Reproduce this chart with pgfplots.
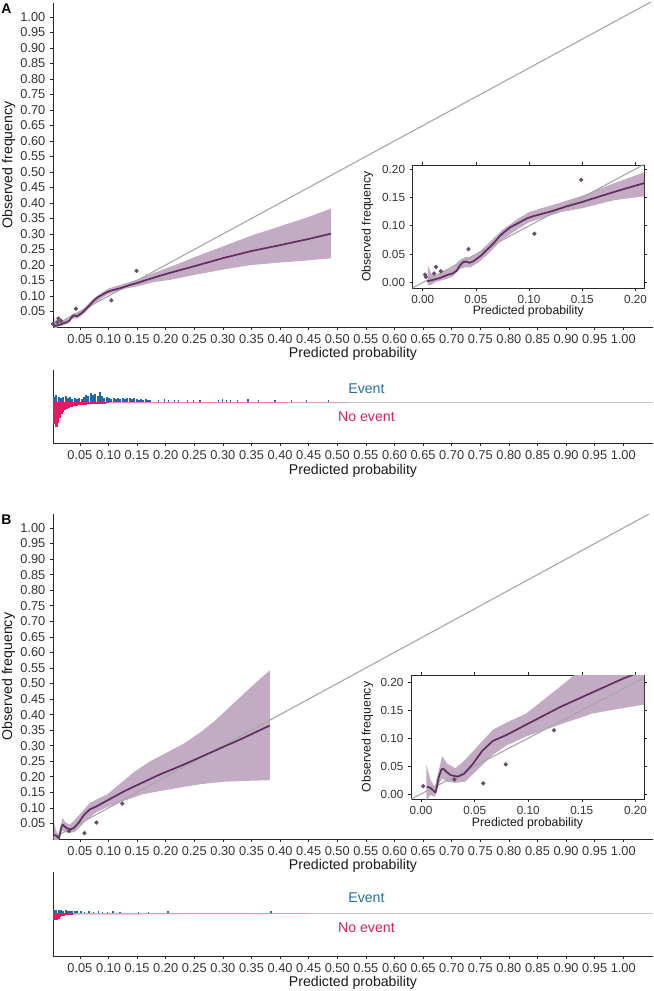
\documentclass[border=0pt]{standalone}
\usepackage{fontspec}
\setmainfont{Liberation Sans}
\usepackage{pgfplots}
\pgfplotsset{compat=1.18}
\definecolor{linecol}{RGB}{96,48,96}
\definecolor{bandcol}{RGB}{196,171,196}
\definecolor{ptcol}{RGB}{105,75,105}
\definecolor{diagcol}{RGB}{168,168,168}
\definecolor{evcol}{RGB}{31,106,165}
\definecolor{nevcol}{RGB}{228,25,95}
\definecolor{evtext}{RGB}{36,110,160}
\definecolor{nevtext}{RGB}{210,35,100}
\definecolor{axcol}{RGB}{40,40,40}

\pgfplotsset{
  base/.style={scale only axis, axis line style={axcol, line width=0.55pt},
    tick style={axcol, line width=0.5pt}, tick align=outside, major tick length=2.2pt,
    ticklabel style={font=\fontsize{9.6}{10}\selectfont, text=black!80},
    label style={font=\fontsize{10.6}{12}\selectfont, text=black!90},
    /pgf/number format/fixed, /pgf/number format/fixed zerofill,
    /pgf/number format/precision=2, /pgf/number format/assume math mode=true},
  probx/.style={xmin=0.003, xmax=1.052, width=450pt,
    xtick={0.05,0.10,0.15,0.20,0.25,0.30,0.35,0.40,0.45,0.50,0.55,0.60,0.65,0.70,0.75,0.80,0.85,0.90,0.95,1.00},
    axis x line*=bottom, axis y line*=left},
  proby/.style={ymin=0, ymax=1.045,
    ytick={0.05,0.10,0.15,0.20,0.25,0.30,0.35,0.40,0.45,0.50,0.55,0.60,0.65,0.70,0.75,0.80,0.85,0.90,0.95,1.00}},
  inset/.style={base, anchor=south west, xmin=-0.0094, xmax=0.208,
    xtick={0,0.05,0.10,0.15,0.20}, ytick={0,0.05,0.10,0.15,0.20},
    axis background/.style={fill=white},
    ticklabel style={font=\fontsize{8.8}{9}\selectfont},
    label style={font=\fontsize{9.2}{10}\selectfont},
    xlabel={Predicted probability}, ylabel={Observed frequency}},
}

% ---------- data: panel A ----------
\pgfplotstableread{
x y
0.004 0.002
0.008 0.004
0.012 0.006
0.016 0.008
0.020 0.011
0.024 0.014
0.028 0.016
0.032 0.021
0.035 0.030
0.038 0.036
0.041 0.037
0.044 0.035
0.047 0.037
0.051 0.042
0.055 0.048
0.060 0.057
0.066 0.068
0.073 0.083
0.078 0.091
0.082 0.097
0.088 0.103
0.092 0.107
0.098 0.113
0.104 0.117
0.112 0.121
0.120 0.125
0.135 0.134
0.150 0.142
0.160 0.148
0.186 0.163
0.208 0.175
0.250 0.196
0.300 0.222
0.350 0.245
0.400 0.264
0.450 0.284
0.489 0.301
}\curveA
\pgfplotstableread{
x y
0.005 0.030
0.008 0.016
0.012 0.012
0.020 0.020
0.028 0.026
0.035 0.040
0.040 0.045
0.045 0.045
0.052 0.052
0.060 0.066
0.075 0.093
0.090 0.113
0.100 0.124
0.110 0.130
0.130 0.141
0.150 0.153
0.180 0.175
0.208 0.194
0.250 0.225
0.300 0.260
0.350 0.295
0.400 0.325
0.450 0.355
0.489 0.382
0.489 0.222
0.450 0.215
0.400 0.208
0.350 0.200
0.300 0.185
0.250 0.168
0.208 0.152
0.180 0.145
0.150 0.131
0.130 0.124
0.110 0.112
0.100 0.106
0.090 0.095
0.075 0.076
0.060 0.048
0.052 0.035
0.045 0.027
0.040 0.027
0.035 0.024
0.028 0.010
0.020 0.005
0.012 0.001
0.008 -0.004
0.005 -0.004
}\bandA
\pgfplotstableread{
x y
0.0022 0.014
0.0030 0.010
0.0107 0.016
0.0125 0.0276
0.0170 0.020
0.0430 0.059
0.1050 0.086
0.1490 0.181
}\ptsA
% ---------- data: panel B ----------
\pgfplotstableread{
x y
0.0056 0.013
0.0088 0.011
0.0120 0.005
0.0135 0.003
0.0150 0.015
0.0166 0.031
0.0190 0.044
0.0210 0.045
0.0235 0.040
0.0275 0.034
0.0340 0.031
0.0400 0.036
0.0480 0.053
0.0570 0.077
0.0670 0.095
0.0790 0.105
0.0980 0.124
0.1290 0.155
0.1600 0.182
0.1890 0.207
0.2300 0.238
0.2860 0.284
0.3350 0.324
0.3820 0.365
}\curveB
\pgfplotstableread{
x y
0.0050 0.052
0.0088 0.025
0.0128 0.013
0.0166 0.043
0.0197 0.068
0.0240 0.055
0.0320 0.046
0.0410 0.061
0.0540 0.088
0.0670 0.115
0.0790 0.127
0.0980 0.144
0.1290 0.191
0.1450 0.216
0.1730 0.250
0.2000 0.276
0.2300 0.305
0.2600 0.342
0.2860 0.380
0.3150 0.430
0.3430 0.478
0.3650 0.515
0.3820 0.542
0.3820 0.189
0.3400 0.187
0.3000 0.184
0.2600 0.176
0.2300 0.167
0.2080 0.160
0.1800 0.151
0.1600 0.144
0.1290 0.124
0.0980 0.103
0.0790 0.086
0.0670 0.070
0.0540 0.046
0.0410 0.022
0.0320 0.020
0.0240 0.022
0.0197 0.028
0.0166 0.019
0.0128 -0.005
0.0088 -0.002
0.0050 -0.011
}\bandB
\pgfplotstableread{
x y
0.0020 0.014
0.0310 0.026
0.0580 0.019
0.0790 0.053
0.1240 0.114
}\ptsB
% ---------- histogram data ----------
\pgfplotstableread{
x h
0.005 5
0.009 7
0.013 5
0.017 4
0.021 5
0.025 6
0.029 4
0.033 5
0.037 3
0.041 4
0.045 3
0.049 4
0.053 3
0.057 5
0.061 7
0.065 6
0.069 9
0.073 7
0.077 8
0.081 6
0.085 10
0.089 6
0.093 4
0.097 5
0.101 4
0.105 3
0.109 4
0.113 3
0.117 4
0.121 3
0.125 4
0.129 3
0.133 4
0.137 4
0.141 3
0.145 4
0.149 3
0.153 2
0.157 3
0.161 2
0.165 3
0.169 2
0.173 2
}\evA
\pgfplotstableread{
x h
0.187 2
0.198 3
0.205 2
0.216 2
0.223 2
0.238 2
0.249 2
0.260 2
0.293 2
0.300 3
0.307 2
0.314 2
0.325 2
0.344 3
0.362 2
0.391 2
0.420 2
0.446 2
0.485 2
}\evAs
\pgfplotstableread{
x h
0.0055 -22
0.0085 -25
0.0115 -21
0.0145 -16
0.0175 -12
0.0205 -10
0.0235 -8
0.0265 -7
0.0295 -6
0.0325 -5
0.0355 -4.5
0.0385 -4
0.0415 -3.5
0.0445 -3.5
0.0475 -3
0.0505 -3
0.0535 -2.5
0.0565 -2.5
0.0595 -3
0.0625 -2
0.0655 -2
0.0685 -2
0.0715 -2
0.0745 -2
0.0775 -2
0.0805 -1.8
0.0835 -1.5
0.0865 -1.5
0.0895 -1.5
0.0925 -1.5
0.0955 -1.3
0.0985 -1.3
}\nevA
\pgfplotstableread{
x h
0.005 3
0.009 3
0.013 3
0.017 3
0.021 2.5
0.025 3
0.029 2
0.033 2.5
0.037 2
0.041 2.5
0.045 2
}\evB
\pgfplotstableread{
x h
0.052 2
0.058 1.5
0.066 2
0.074 1.5
0.082 2
0.090 1.5
0.098 1.5
0.108 2
0.120 1.5
0.152 1.5
0.170 1.5
0.204 2
0.384 2
}\evBs
\pgfplotstableread{
x h
0.0060 -7
0.0090 -7
0.0120 -6
0.0150 -4
0.0180 -3
0.0210 -2.5
0.0240 -2
0.0270 -2
0.0300 -1.5
0.0330 -1.5
0.0360 -1.2
}\nevB

\begin{document}
\begin{tikzpicture}
\useasboundingbox (0,0) rectangle (489.75pt,-743.25pt);

\node[font=\bfseries\fontsize{10.5}{12}\selectfont] at (4.8pt,-6.5pt) {A};
\node[font=\bfseries\fontsize{10.5}{12}\selectfont] at (4.8pt,-390pt) {B};

% ===== Main A =====
\begin{axis}[base, probx, proby, at={(39.75pt,-245.25pt)}, anchor=south west, height=243pt,
  xlabel={Predicted probability}, ylabel={Observed frequency},
  xlabel style={at={(axis description cs:0.5,-0.083)}, anchor=center},
  ylabel style={at={(axis description cs:-0.074,0.5)}, anchor=center}]
\addplot[draw=none, fill=bandcol] table {\bandA} -- cycle;
\addplot[diagcol, line width=0.85pt] coordinates {(0,0) (1.1,1.1)};
\addplot[linecol, line width=1.3pt] table {\curveA};
\addplot[only marks, mark=*, mark size=1.4pt, ptcol] table {\ptsA};
\end{axis}

% ===== Histogram A =====
\begin{axis}[base, probx, at={(39.75pt,-332.25pt)}, anchor=south west, height=54.75pt,
  ymin=-41, ymax=32, ytick=\empty, xlabel={Predicted probability},
  xlabel style={at={(axis description cs:0.5,-0.384)}, anchor=center}]
\addplot[gray!45, line width=0.6pt] coordinates {(0.003,0) (1.052,0)};
\addplot[fill=nevcol!55, draw=none] coordinates {(0.1,0) (0.1,-1.2) (0.2,-1) (0.52,-0.6) (0.52,0)} -- cycle;
\addplot[ycomb, draw=evcol, line width=1.5pt, mark=none] table {\evA};
\addplot[ycomb, draw=evcol, line width=0.9pt, mark=none] table {\evAs};
\addplot[ycomb, draw=nevcol, line width=2.2pt, mark=none] table {\nevA};
\node[text=evtext, font=\fontsize{10.6}{12}\selectfont] at (axis cs:0.551,13.7) {Event};
\node[text=nevtext, font=\fontsize{10.6}{12}\selectfont] at (axis cs:0.551,-14.3) {No event};
\end{axis}

% ===== Inset A =====
\begin{axis}[inset, at={(309.5pt,-216pt)}, width=173.5pt, height=92.25pt,
  ymin=-0.0095, ymax=0.207,
  xlabel style={at={(axis description cs:0.5,-0.19)}, anchor=center},
  ylabel style={at={(axis description cs:-0.195,0.5)}, anchor=center}]
\addplot[draw=none, fill=bandcol] table {\bandA} -- cycle;
\addplot[diagcol, line width=0.85pt] coordinates {(-0.02,-0.02) (0.3,0.3)};
\addplot[linecol, line width=1.3pt] table {\curveA};
\addplot[only marks, mark=*, mark size=1.4pt, ptcol] table {\ptsA};
\end{axis}

% ===== Main B =====
\begin{axis}[base, probx, proby, at={(39.75pt,-629.25pt)}, anchor=south west, height=243.75pt,
  xlabel={Predicted probability}, ylabel={Observed frequency},
  xlabel style={at={(axis description cs:0.5,-0.083)}, anchor=center},
  ylabel style={at={(axis description cs:-0.074,0.5)}, anchor=center}]
\addplot[draw=none, fill=bandcol] table {\bandB} -- cycle;
\addplot[diagcol, line width=0.85pt] coordinates {(0,0) (1.1,1.1)};
\addplot[linecol, line width=1.3pt] table {\curveB};
\addplot[only marks, mark=*, mark size=1.4pt, ptcol] table {\ptsB};
\end{axis}

% ===== Histogram B =====
\begin{axis}[base, probx, at={(39.75pt,-717pt)}, anchor=south west, height=63pt,
  ymin=-42.7, ymax=41.3, ytick=\empty, xlabel={Predicted probability},
  xlabel style={at={(axis description cs:0.5,-0.32)}, anchor=center}]
\addplot[gray!45, line width=0.6pt] coordinates {(0.003,0) (1.052,0)};
\addplot[fill=nevcol!55, draw=none] coordinates {(0.036,0) (0.036,-1.2) (0.1,-1) (0.45,-0.6) (0.45,0)} -- cycle;
\addplot[ycomb, draw=evcol, line width=1.5pt, mark=none] table {\evB};
\addplot[ycomb, draw=evcol, line width=0.9pt, mark=none] table {\evBs};
\addplot[ycomb, draw=nevcol, line width=2.2pt, mark=none] table {\nevB};
\node[text=evtext, font=\fontsize{10.6}{12}\selectfont] at (axis cs:0.551,15.3) {Event};
\node[text=nevtext, font=\fontsize{10.6}{12}\selectfont] at (axis cs:0.551,-14.7) {No event};
\end{axis}

% ===== Inset B =====
\begin{axis}[inset, at={(308.25pt,-599.25pt)}, width=174.75pt, height=93pt,
  ymin=-0.009, ymax=0.213,
  xlabel style={at={(axis description cs:0.5,-0.2)}, anchor=center},
  ylabel style={at={(axis description cs:-0.187,0.5)}, anchor=center}]
\addplot[draw=none, fill=bandcol] table {\bandB} -- cycle;
\addplot[diagcol, line width=0.85pt] coordinates {(-0.02,-0.02) (0.3,0.3)};
\addplot[linecol, line width=1.3pt] table {\curveB};
\addplot[only marks, mark=*, mark size=1.4pt, ptcol] table {\ptsB};
\end{axis}
\end{tikzpicture}
\end{document}
